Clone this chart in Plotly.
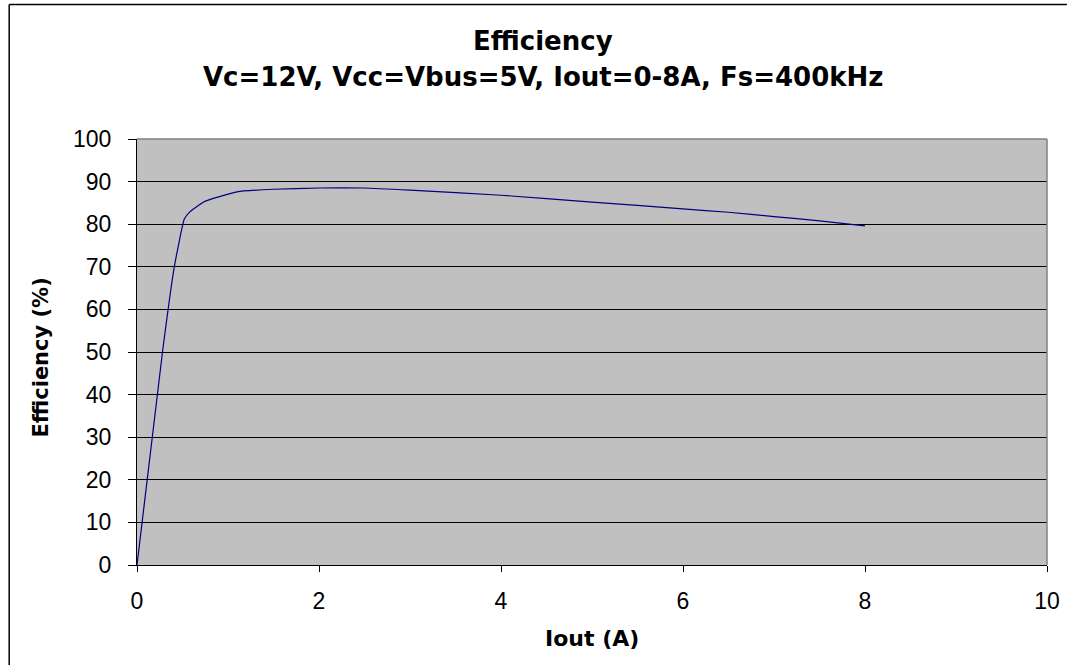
import plotly.graph_objects as go

iout = [0, 0.28, 0.41, 0.52, 0.58, 0.74, 1.1, 1.5, 2.0, 2.5, 3.0, 4.0, 5.0, 6.0, 6.5, 7.0, 7.5, 8.0]
eff = [0, 50, 70, 81.2, 82.9, 85.3, 87.6, 88.2, 88.5, 88.5, 88.0, 86.8, 85.2, 83.6, 82.8, 81.8, 80.8, 79.6]
x_ticks = [0, 2, 4, 6, 8, 10]
y_ticks = [0, 10, 20, 30, 40, 50, 60, 70, 80, 90, 100]

W, H = 1072, 665
# plot area in screen pixels
SL, SR, ST, SB = 137, 1052, 139, 565
L, T, R, B = SL, ST, W - SR, H - SB
pw, ph = W - L - R, H - T - B

def px(xs):
    return (xs - L) / pw

def py(ys):
    return (H - B - ys) / ph

BOLD = "DejaVu Sans, sans-serif"

fig = go.Figure()
fig.add_trace(go.Scatter(x=iout, y=eff, mode="lines",
                         line=dict(color="#000080", width=1.2, shape="spline", smoothing=0.4),
                         showlegend=False, hoverinfo="skip"))

fig.update_layout(
    width=W, height=H,
    margin=dict(l=L, r=R, t=T, b=B),
    paper_bgcolor="white", plot_bgcolor="#C0C0C0",
    font=dict(family="Liberation Sans, Arial, sans-serif", color="black"),
    showlegend=False,
)
fig.update_xaxes(range=[0, 10], tickvals=x_ticks, showgrid=False, zeroline=False,
                 showline=True, linecolor="black", linewidth=1,
                 ticks="outside", ticklen=6, tickcolor="black", ticklabelstandoff=9,
                 tickfont=dict(size=23), title=None)
fig.update_yaxes(range=[0, 100], tickvals=y_ticks, showgrid=True, gridcolor="black", gridwidth=1,
                 zeroline=False, showline=True, linecolor="black", linewidth=1,
                 ticks="outside", ticklen=8, tickcolor="black", ticklabelstandoff=12,
                 tickfont=dict(size=23), title=None)

# plot-area border (top/right gray)
fig.add_shape(type="line", xref="paper", yref="paper", x0=0, x1=1, y0=1, y1=1,
              line=dict(color="#808080", width=1.5))
fig.add_shape(type="line", xref="paper", yref="paper", x0=1, x1=1, y0=0, y1=1,
              line=dict(color="#808080", width=1.5))
# outer chart border: only top and left edges are inside the view
fig.add_shape(type="line", xref="paper", yref="paper",
              x0=px(8.5), x1=px(W), y0=py(4.5), y1=py(4.5),
              line=dict(color="black", width=1.5), layer="below")
fig.add_shape(type="line", xref="paper", yref="paper",
              x0=px(8.5), x1=px(8.5), y0=py(4.5), y1=py(H),
              line=dict(color="black", width=1.5), layer="below")

fig.add_annotation(text="<b>Efficiency</b>", xref="paper", yref="paper",
                   x=px(545), y=py(41), showarrow=False, font=dict(size=26, family=BOLD),
                   xanchor="center", yanchor="middle")
fig.add_annotation(text="<b>Vc=12V, Vcc=Vbus=5V, Iout=0-8A, Fs=400kHz</b>", xref="paper", yref="paper",
                   x=px(545), y=py(77), showarrow=False, font=dict(size=26, family=BOLD),
                   xanchor="center", yanchor="middle")
fig.add_annotation(text="<b>Iout (A)</b>", xref="paper", yref="paper",
                   x=px(594), y=py(638), showarrow=False, font=dict(size=22, family=BOLD),
                   xanchor="center", yanchor="middle")
fig.add_annotation(text="<b>Efficiency (%)</b>", xref="paper", yref="paper",
                   x=px(40), y=py(358), showarrow=False, font=dict(size=21, family=BOLD),
                   textangle=-90, xanchor="center", yanchor="middle")

fig.write_html("out.html", config={"displayModeBar": False},
               post_script="document.body.style.margin='0px';document.body.style.overflow='hidden';document.documentElement.style.overflow='hidden';")
